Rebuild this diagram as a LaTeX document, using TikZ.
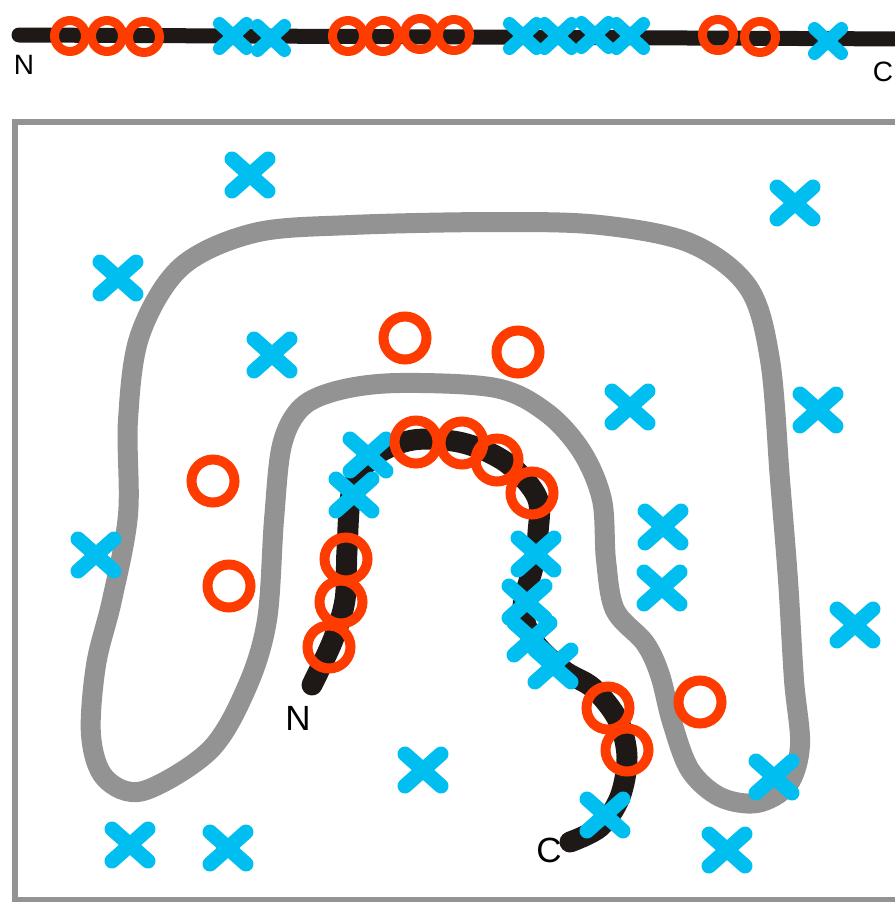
\documentclass[tikz,border=0pt]{standalone}
\usepackage{fontspec}
\setmainfont{Liberation Sans}
\usetikzlibrary{shapes.misc}
\definecolor{residueO}{HTML}{FF3C00}
\definecolor{residueX}{HTML}{00BEF0}
\definecolor{membrane}{HTML}{939393}
\definecolor{chain}{HTML}{1E1917}

\begin{document}
\begin{tikzpicture}[x=1pt,y=-1pt,
  ring/.style={circle, draw=residueO, line width=10pt, minimum size=43pt, inner sep=0pt, outer sep=0pt},
  smallring/.style={circle, draw=residueO, line width=9pt, minimum size=31pt, inner sep=0pt, outer sep=0pt},
  xmark/.style={cross out, draw=residueX, line width=15pt, line cap=round, minimum width=36pt, minimum height=32pt, inner sep=0pt, outer sep=0pt},
  smallxmark/.style={cross out, draw=residueX, line width=13pt, line cap=round, minimum width=27pt, minimum height=25pt, inner sep=0pt, outer sep=0pt},
  termtext/.style={font=\fontsize{35}{35}\selectfont, inner sep=0pt, text=black},
  smalltermtext/.style={font=\fontsize{28}{28}\selectfont, inner sep=0pt, text=black}
]
\useasboundingbox (0,0) rectangle (894,902);

% ---------- linear sequence ----------
\coordinate (seqN) at (19,35);
\coordinate (seqC) at (910,39);
\draw[chain, line width=15pt, line cap=round] (seqN) -- (seqC);
\node[smalltermtext] (labN1) at (24,65) {N};
\node[smalltermtext] (labC1) at (883,72) {C};

\foreach \x/\y [count=\i] in {233/36, 271/38, 523/36, 558/36, 595/35, 630/36, 828/41}
  \node[smallxmark] (sx\i) at (\x,\y) {};
\foreach \x/\y [count=\i] in {70/36, 107/36, 144/37, 348/36, 383/36, 420/34, 454/35, 718/35, 760/37}
  \node[smallring] (so\i) at (\x,\y) {};

% ---------- folded protein in the membrane ----------
\draw[membrane, line width=6pt] (900,122) -- (15,122) -- (15,900) -- (900,900);

\draw[membrane, line width=20pt] plot[smooth cycle, tension=0.55] coordinates {
  (181,267) (254,233) (351,225) (496,222) (600,225) (690,243) (748,287)
  (770,360) (780,480) (788,580) (794,680) (800,745) (788,785) (757,803)
  (720,797) (690,770) (672,722) (660,675) (645,643) (615,610) (606,560)
  (602,500) (582,452) (547,413) (496,388) (399,383) (340,390) (302,407)
  (282,445) (274,520) (267,620) (247,687) (210,750) (143,791) (105,778)
  (91,735) (96,665) (112,600) (128,515) (128,420) (140,335)};

\draw[chain, line width=21pt, line cap=round] plot[smooth, tension=0.55] coordinates {
  (312,685) (333,640) (345,600) (347,550) (352,490) (373,457) (413,440)
  (463,443) (507,463) (537,497) (538,533) (533,567) (523,607) (533,640)
  (563,670) (593,688) (618,720) (627,757) (620,797) (600,827) (570,842)};

\node[termtext] (labN2) at (298,718) {N};
\node[termtext] (labC2) at (549,850) {C};

\foreach \x/\y [count=\i] in {
  250/175, 795/203, 118/278, 272/355, 630/407, 818/410,
  368/455, 354/495, 96/555, 663/527, 662/588, 536/554,
  527/602, 532/639, 553/666, 855/625, 423/770, 774/777,
  605/815, 130/845, 228/848, 727/850}
  \node[xmark] (x\i) at (\x,\y) {};

\foreach \x/\y [count=\i] in {
  405/338, 518/352, 213/481, 229/586, 700/702,
  416/442, 462/443, 497/460, 532/493, 346/559, 341/602, 329/647,
  608/708, 627/750}
  \node[ring] (o\i) at (\x,\y) {};
\end{tikzpicture}
\end{document}
